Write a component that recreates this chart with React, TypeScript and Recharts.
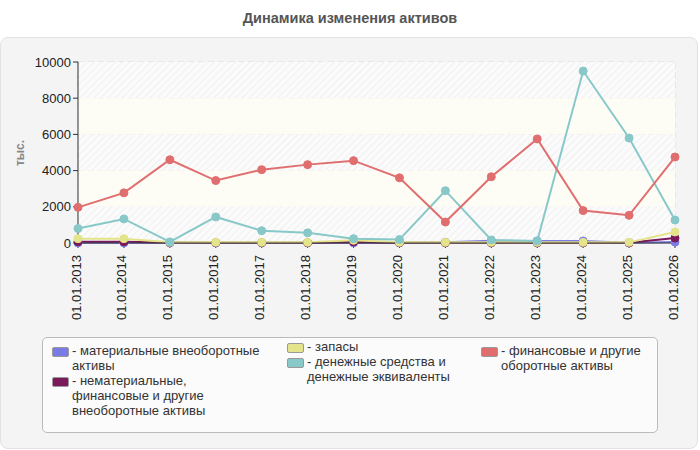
import React from "react";
import { LineChart, Line, XAxis, YAxis, CartesianGrid, ReferenceArea } from "recharts";

const categories = ["01.01.2013","01.01.2014","01.01.2015","01.01.2016","01.01.2017","01.01.2018","01.01.2019","01.01.2020","01.01.2021","01.01.2022","01.01.2023","01.01.2024","01.01.2025","01.01.2026"];
const tangible = [10, 10, 10, 10, 10, 10, 10, 10, 40, 120, 110, 110, 20, 50];
const intangible = [70, 70, 30, 20, 20, 20, 60, 20, 10, 10, 10, 10, 10, 270];
const inventory = [240, 240, 40, 35, 35, 35, 150, 35, 35, 35, 35, 35, 35, 610];
const cash = [800, 1330, 60, 1440, 680, 560, 240, 190, 2890, 170, 110, 9500, 5800, 1270];
const financial = [1970, 2770, 4600, 3450, 4050, 4330, 4550, 3600, 1160, 3660, 5750, 1790, 1530, 4750];
const yTicks = [0, 2000, 4000, 6000, 8000, 10000];

const series = [
  { key: "tangible", name: "материальные внеоборотные активы", color: "#7b7be8", values: tangible },
  { key: "intangible", name: "нематериальные, финансовые и другие внеоборотные активы", color: "#7a1a58", values: intangible },
  { key: "inventory", name: "запасы", color: "#e4e48a", values: inventory },
  { key: "cash", name: "денежные средства и денежные эквиваленты", color: "#88c8c8", values: cash },
  { key: "financial", name: "финансовые и другие оборотные активы", color: "#e06e6e", values: financial },
];

const data = categories.map((c, i) => {
  const row: any = { date: c };
  series.forEach((s) => (row[s.key] = s.values[i]));
  return row;
});

const FONT = "'Liberation Sans', Arial, sans-serif";

const XTick = (props: any) => {
  const { x, y, payload } = props;
  return (
    <text x={x} y={y} dy={3} transform={`rotate(-90 ${x} ${y + 5})`} textAnchor="end" dominantBaseline="central" fontSize={13} fill="#222" fontFamily={FONT}>
      {payload.value}
    </text>
  );
};

const legendCols = [
  [
    { color: "#7b7be8", lines: ["- материальные внеоборотные", "активы"] },
    { color: "#7a1a58", lines: ["- нематериальные,", "финансовые и другие", "внеоборотные активы"] },
  ],
  [
    { color: "#e4e48a", lines: ["- запасы"] },
    { color: "#88c8c8", lines: ["- денежные средства и", "денежные эквиваленты"] },
  ],
  [{ color: "#e06e6e", lines: ["- финансовые и другие", "оборотные активы"] }],
];
const colLefts = [52, 287, 481];
const colTops = [343, 339, 343];

export default function App() {
  return (
    <div style={{ position: "absolute", left: 0, top: 0, width: 700, height: 450, background: "#fff", fontFamily: FONT }}>
      <div style={{ position: "absolute", top: 10, left: 0, width: 700, textAlign: "center", fontSize: 14.5, fontWeight: "bold", color: "#555" }}>
        Динамика изменения активов
      </div>
      <div style={{ position: "absolute", left: 0, top: 37, width: 696, height: 410, background: "#f4f4f4", border: "1px solid #e2e2e2", borderRadius: 8 }} />
      <div style={{ position: "absolute", left: 0, top: 0 }}>
        <LineChart width={700} height={330} data={data} margin={{ top: 62, right: 25, left: 0, bottom: 0 }}>
          <defs>
            <pattern id="hatch" width="5" height="5" patternUnits="userSpaceOnUse" patternTransform="rotate(45)">
              <rect width="5" height="5" fill="#fbfbfb" />
              <line x1="0" y1="0" x2="0" y2="5" stroke="#ededed" strokeWidth="1.5" />
            </pattern>
          </defs>
          <ReferenceArea y1={8000} y2={10000} fill="url(#hatch)" fillOpacity={1} stroke="none" />
          <ReferenceArea y1={6000} y2={8000} fill="#fdfdf6" fillOpacity={1} stroke="none" />
          <ReferenceArea y1={4000} y2={6000} fill="url(#hatch)" fillOpacity={1} stroke="none" />
          <ReferenceArea y1={2000} y2={4000} fill="#fdfdf6" fillOpacity={1} stroke="none" />
          <ReferenceArea y1={0} y2={2000} fill="url(#hatch)" fillOpacity={1} stroke="none" />
          <CartesianGrid stroke="#dcdcdc" strokeDasharray="6 4" />
          <XAxis dataKey="date" interval={0} height={87} tick={<XTick />} tickLine={{ stroke: "#333" }} axisLine={{ stroke: "#333" }} tickSize={5} />
          <YAxis domain={[0, 10000]} ticks={yTicks} width={78} tick={{ fontSize: 13, fill: "#222", fontFamily: FONT }} tickLine={{ stroke: "#333" }} axisLine={{ stroke: "#333" }} tickSize={5} />
          {series.map((s) => (
            <Line key={s.key} dataKey={s.key} name={s.name} stroke={s.color} strokeWidth={2} dot={{ r: 4, fill: s.color, stroke: s.color, strokeWidth: 1 }} isAnimationActive={false} />
          ))}
        </LineChart>
      </div>
      <div style={{ position: "absolute", left: 20, top: 153, transform: "translate(-50%,-50%) rotate(-90deg)", fontSize: 12, fontWeight: "bold", color: "#888", whiteSpace: "nowrap" }}>
        тыс.
      </div>
      <div style={{ position: "absolute", left: 42, top: 337, width: 614, height: 94, background: "#fbfbfb", border: "1px solid #bbb", borderRadius: 5 }} />
      {legendCols.map((col, ci) => (
        <div key={ci} style={{ position: "absolute", left: colLefts[ci], top: colTops[ci] }}>
          {col.map((it, ii) => (
            <div key={ii} style={{ display: "flex", alignItems: "flex-start", marginBottom: 0 }}>
              <div style={{ width: 15, height: 8, background: it.color, border: "1px solid #999", borderRadius: 2, marginTop: 4, marginRight: 3 }} />
              <div style={{ fontSize: 13, lineHeight: "15px", color: "#333" }}>
                {it.lines.map((l, li) => (
                  <div key={li} style={{ whiteSpace: "nowrap" }}>{l}</div>
                ))}
              </div>
            </div>
          ))}
        </div>
      ))}
    </div>
  );
}
